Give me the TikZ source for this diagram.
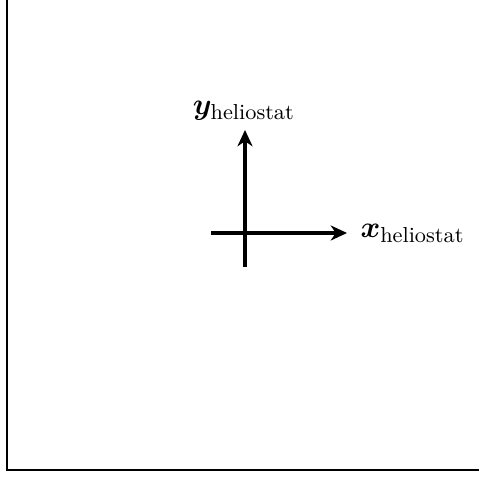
\documentclass[tikz,border=0pt]{standalone}
\usepackage{amsmath,bm}
\usetikzlibrary{arrows.meta}
\tikzset{
  frameline/.style={line width=0.9pt},
  axisline/.style={line width=1.5pt,-{Stealth[length=6.5pt,width=6pt,inset=2pt]}},
  axislabel/.style={inner sep=0pt,font=\fontsize{12.4}{14}\selectfont}
}
\begin{document}
\begin{tikzpicture}[x=0.4pt,y=-0.4pt]
\useasboundingbox (0,0) rectangle (479,477);
\coordinate (ftop) at (7,0);
\coordinate (fcorner) at (7,470);
\coordinate (fright) at (479,470);
\draw[frameline] (ftop) -- (fcorner) -- (fright);
\coordinate (xstart) at (211,233);
\coordinate (xend) at (347,233);
\coordinate (ystart) at (245,267);
\coordinate (yend) at (245,130);
\draw[axisline] (xstart) -- (xend);
\draw[axisline] (ystart) -- (yend);
\node[axislabel,anchor=base] (ylab) at (244,115) {$\bm{y}_{\text{heliostat}}$};
\node[axislabel,anchor=base west] (xlab) at (360,238) {$\bm{x}_{\text{heliostat}}$};
\end{tikzpicture}
\end{document}
